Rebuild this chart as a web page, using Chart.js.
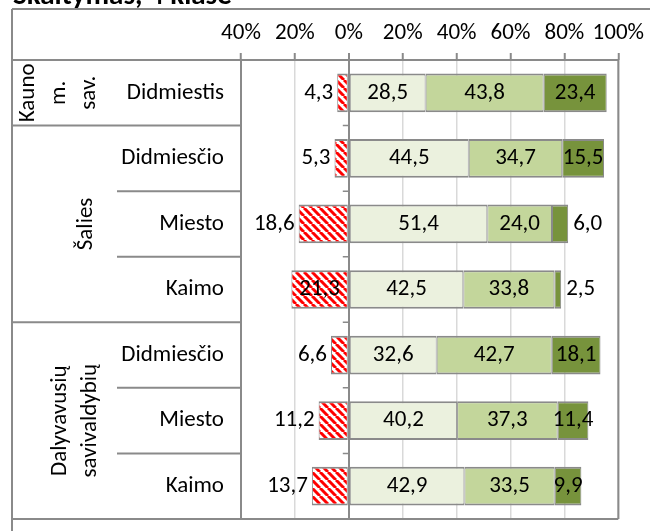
<!DOCTYPE html>
<html>
<head>
<meta charset="utf-8">
<script src="https://cdn.jsdelivr.net/npm/chart.js@4.4.1/dist/chart.umd.min.js"></script>
<style>
  html, body { margin: 0; padding: 0; background: #ffffff; }
  #wrap { width: 650px; height: 531px; position: relative; }
</style>
</head>
<body>
<div id="wrap"><canvas id="chart" width="650" height="531"></canvas></div>
<script>
//---------------------------------------------------------------------------------------------
// - DATA -------------------------------------------------------------------------------------
//---------------------------------------------------------------------------------------------

var title = "Skaitymas, 4 klasė";

var categories = ["Didmiestis", "Didmiesčio", "Miesto", "Kaimo", "Didmiesčio", "Miesto", "Kaimo"];

var groups = [
    { lines: ["Kauno", "m.", "sav."], from: 0, to: 0 },
    { lines: ["Šalies"], from: 1, to: 3 },
    { lines: ["Dalyvavusių", "savivaldybių"], from: 4, to: 6 }
];

var belowBasic   = [4.3, 5.3, 18.6, 21.3, 6.6, 11.2, 13.7];
var basic        = [28.5, 44.5, 51.4, 42.5, 32.6, 40.2, 42.9];
var intermediate = [43.8, 34.7, 24.0, 33.8, 42.7, 37.3, 33.5];
var advanced     = [23.4, 15.5, 6.0, 2.5, 18.1, 11.4, 9.9];

var xMin = -40, xMax = 100, xStep = 20;

//---------------------------------------------------------------------------------------------
// - STYLE ------------------------------------------------------------------------------------
//---------------------------------------------------------------------------------------------

var FONT = "Calibri, Carlito, Lato, sans-serif";
var FONT_SIZE = 23;
var LINE = "#8a8a8a";

// group label columns (rotated text), x of each text line
var groupLineX = [[28, 59, 89], [86], [60, 90]];

function hatch() {
    var c = document.createElement("canvas");
    c.width = 8; c.height = 8;
    var g = c.getContext("2d");
    g.fillStyle = "#ffffff";
    g.fillRect(0, 0, 8, 8);
    g.strokeStyle = "#ff0000";
    g.lineWidth = 3;
    [-8, 0, 8].forEach(function (k) {
        g.beginPath();
        g.moveTo(k, 0);
        g.lineTo(k + 8, 8);
        g.stroke();
    });
    return g.createPattern(c, "repeat");
}

function fmt(v) {
    return Math.abs(v).toFixed(1).replace(".", ",");
}

//---------------------------------------------------------------------------------------------
// - PLUGINS ----------------------------------------------------------------------------------
//---------------------------------------------------------------------------------------------

var tablePlugin = {
    id: "table",
    afterDraw: function (chart) {
        var ctx = chart.ctx, a = chart.chartArea, y = chart.scales.y, x = chart.scales.x;
        var left = 12, groupCol = 117;
        var rowEdge = function (i) { return (y.getPixelForValue(i) + y.getPixelForValue(i + 1)) / 2; };
        ctx.save();
        ctx.strokeStyle = LINE;
        ctx.lineWidth = 2;
        ctx.beginPath();
        // outer frame
        ctx.moveTo(left, 9); ctx.lineTo(chart.width, 9);
        ctx.moveTo(left, 9); ctx.lineTo(left, chart.height);
        // header and bottom lines
        ctx.moveTo(left, a.top); ctx.lineTo(a.right, a.top);
        ctx.moveTo(left, a.bottom); ctx.lineTo(a.right, a.bottom);
        // plot borders
        ctx.moveTo(a.left, a.top); ctx.lineTo(a.left, a.bottom);
        ctx.moveTo(a.right, a.top); ctx.lineTo(a.right, a.bottom);
        // group and row dividers
        groups.forEach(function (g, gi) {
            if (gi < groups.length - 1) {
                var yy = rowEdge(g.to);
                ctx.moveTo(left, yy); ctx.lineTo(a.left, yy);
            }
            for (var r = g.from; r < g.to; r++) {
                var yr = rowEdge(r);
                ctx.moveTo(groupCol, yr); ctx.lineTo(a.left, yr);
            }
        });
        ctx.stroke();

        // category ticks on the 0% axis
        var x0 = x.getPixelForValue(0);
        ctx.beginPath();
        ctx.lineWidth = 1.5;
        for (var i = 0; i < categories.length - 1; i++) {
            var t = rowEdge(i);
            ctx.moveTo(x0 - 6, t); ctx.lineTo(x0, t);
        }
        ctx.stroke();

        // group labels, rotated
        ctx.fillStyle = "#000";
        ctx.font = FONT_SIZE + "px " + FONT;
        ctx.textAlign = "center";
        ctx.textBaseline = "middle";
        groups.forEach(function (g, gi) {
            var cy = (y.getPixelForValue(g.from) + y.getPixelForValue(g.to)) / 2;
            g.lines.forEach(function (txt, li) {
                ctx.save();
                ctx.translate(groupLineX[gi][li], cy);
                ctx.rotate(-Math.PI / 2);
                ctx.fillText(txt, 0, 0);
                ctx.restore();
            });
        });

        // title, partly cut at the top
        ctx.font = "bold 29px " + FONT;
        ctx.textAlign = "left";
        ctx.textBaseline = "alphabetic";
        ctx.fillText(title, 13, 4);
        ctx.restore();
    }
};

var labelPlugin = {
    id: "barLabels",
    afterDatasetsDraw: function (chart) {
        var ctx = chart.ctx;
        ctx.save();
        ctx.font = FONT_SIZE + "px " + FONT;
        ctx.fillStyle = "#000";
        ctx.textBaseline = "middle";
        chart.data.datasets.forEach(function (ds, di) {
            chart.getDatasetMeta(di).data.forEach(function (bar, i) {
                var v = Math.abs(ds.data[i]);
                var l = Math.min(bar.x, bar.base), r = Math.max(bar.x, bar.base);
                if (di === 0 && v < 20) {
                    ctx.textAlign = "right";
                    ctx.fillText(fmt(v), l - 4, bar.y);
                } else if (di === 3 && v < 8) {
                    ctx.textAlign = "left";
                    ctx.fillText(fmt(v), r + 5, bar.y);
                } else {
                    ctx.textAlign = "center";
                    ctx.fillText(fmt(v), (l + r) / 2, bar.y);
                }
            });
        });
        ctx.restore();
    }
};

//---------------------------------------------------------------------------------------------
// - CHART ------------------------------------------------------------------------------------
//---------------------------------------------------------------------------------------------

var barBorder = { top: 2, bottom: 2, left: 1, right: 1 };

var chart_data = {
    labels: categories,
    datasets: [{
        label: "Nepasiekė patenkinamo",
        data: belowBasic.map(function (v) { return -v; }),
        backgroundColor: hatch()
    }, {
        label: "Patenkinamas",
        data: basic,
        backgroundColor: "#ebf1de"
    }, {
        label: "Pagrindinis",
        data: intermediate,
        backgroundColor: "#c3d69b"
    }, {
        label: "Aukštesnysis",
        data: advanced,
        backgroundColor: "#77933c"
    }]
};

chart_data.datasets.forEach(function (d) {
    d.borderColor = LINE;
    d.borderWidth = barBorder;
    d.borderSkipped = false;
    d.barPercentage = 0.59;
    d.categoryPercentage = 1;
});

var chart_config = {
    type: "bar",
    data: chart_data,
    options: {
        indexAxis: "y",
        responsive: false,
        animation: false,
        devicePixelRatio: 1,
        layout: { padding: { left: 0, top: 0, right: 30, bottom: 12 } },
        plugins: {
            legend: { display: false },
            tooltip: { enabled: false }
        },
        scales: {
            x: {
                position: "top",
                stacked: true,
                min: xMin,
                max: xMax,
                afterFit: function (s) { s.height = 60; },
                ticks: {
                    stepSize: xStep,
                    color: "#000",
                    padding: 6,
                    maxRotation: 0,
                    minRotation: 0,
                    autoSkip: false,
                    font: { family: FONT, size: FONT_SIZE },
                    callback: function (v) { return Math.abs(v) + "%"; }
                },
                border: { display: false },
                grid: {
                    color: function (c) {
                        if (!c.tick) return "#d9d9d9";
                        if (c.tick.value === 0) return LINE;
                        return "#d9d9d9";
                    },
                    lineWidth: function (c) { return c.tick && c.tick.value === 0 ? 2 : 1.5; },
                    tickColor: LINE,
                    tickLength: 7,
                    tickWidth: 2
                }
            },
            y: {
                stacked: true,
                afterFit: function (s) {
                    s.width = 241;
                    s.paddingTop = 0;
                    s.paddingBottom = 0;
                },
                ticks: {
                    color: "#000",
                    padding: 17,
                    font: { family: FONT, size: FONT_SIZE }
                },
                grid: { display: false, drawTicks: false },
                border: { display: false }
            }
        }
    },
    plugins: [tablePlugin, labelPlugin]
};

var chart_ctx = document.getElementById("chart").getContext("2d");

new Chart(chart_ctx, chart_config);
</script>
</body>
</html>
